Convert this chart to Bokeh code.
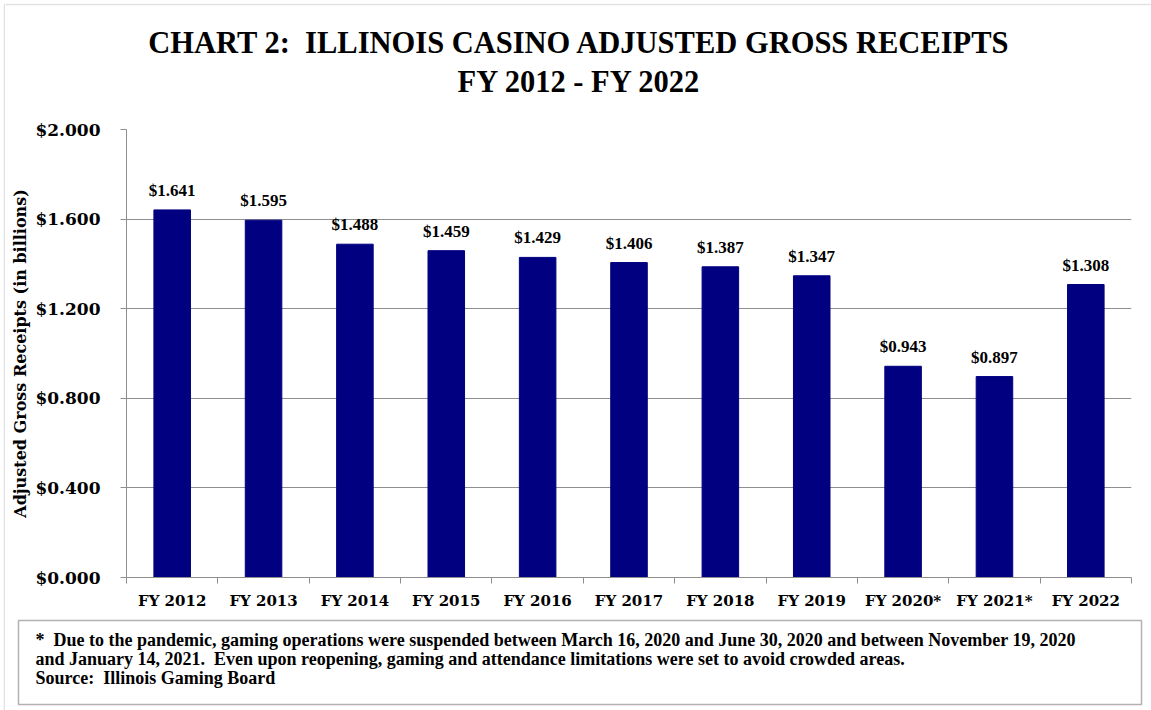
from bokeh.plotting import figure
from bokeh.layouts import column, row
from bokeh.models import (ColumnDataSource, Range1d, FixedTicker, NumeralTickFormatter,
                          LabelSet, Label, BoxAnnotation, Plot)
from bokeh.embed import file_html
from bokeh.resources import INLINE

# ---------------- data ----------------
categories = ["FY 2012", "FY 2013", "FY 2014", "FY 2015", "FY 2016", "FY 2017",
              "FY 2018", "FY 2019", "FY 2020*", "FY 2021*", "FY 2022"]
receipts = [1.641, 1.595, 1.488, 1.459, 1.429, 1.406, 1.387, 1.347, 0.943, 0.897, 1.308]
value_labels = ["$%.3f" % v for v in receipts]
y_ticks = [0.0, 0.4, 0.8, 1.2, 1.6, 2.0]
title_lines = ["CHART 2:\u00a0 ILLINOIS CASINO ADJUSTED GROSS RECEIPTS", "FY 2012 - FY 2022"]
y_label = "Adjusted Gross Receipts (in billions)"
footnote_lines = [
    "*\u00a0 Due to the pandemic, gaming operations were suspended between March 16, 2020 and June 30, 2020 and between November 19, 2020",
    "and January 14, 2021.\u00a0 Even upon reopening, gaming and attendance limitations were set to avoid crowded areas.",
    "Source:\u00a0 Illinois Gaming Board",
]

# ---------------- layout / styling ----------------
PAGE_W, PAGE_H = 1151, 710
STRIP_W = 5                      # left strip carrying the outer border
W = PAGE_W - STRIP_W
TOP_H, MAIN_H = 100, 515
FOOT_H = PAGE_H - TOP_H - MAIN_H
FRAME_L, FRAME_R, FRAME_T, FRAME_B = 126, 1131, 129, 577   # page coords of plot area
GRAY = "#8e8e8e"
BORDER = "#a0a0a0"
NAVY = "#000080"
SERIF_NUM = "DejaVu Serif"
SERIF_TXT = "Liberation Serif"
HAS_FRAME_ALIGN = "frame_align" in Plot.properties()


def no_align(f):
    if HAS_FRAME_ALIGN:
        f.frame_align = False
    return f


def blank(width, height):
    f = figure(width=width, height=height, title=None, output_backend="svg",
               toolbar_location=None, x_axis_location=None, y_axis_location=None,
               min_border=0, min_border_left=0, min_border_right=0,
               min_border_top=0, min_border_bottom=0,
               x_range=Range1d(0, width), y_range=Range1d(0, height))
    f.outline_line_color = None
    f.xgrid.visible = False
    f.ygrid.visible = False
    f.background_fill_color = "white"
    f.border_fill_color = "white"
    return no_align(f)


def box(left, right, top, bottom, color, lw):
    return BoxAnnotation(left=left, right=right, top=top, bottom=bottom,
                         left_units="screen", right_units="screen",
                         top_units="screen", bottom_units="screen",
                         fill_color=None, line_color=color, line_width=lw)


# ---- left strip with the outer border ----
strip = blank(STRIP_W, PAGE_H)
strip.add_layout(box(4, 60, PAGE_H - 4, -60, BORDER, 1.5))

# ---- title panel ----
top = blank(W, TOP_H)
top.add_layout(box(-60, W + 60, TOP_H - 4, -60, BORDER, 1.5))
for txt, base in zip(title_lines, [42, 81]):
    top.add_layout(Label(x=579 - STRIP_W, y=TOP_H - base, x_units="screen", y_units="screen",
                         text=txt, text_align="center", text_baseline="alphabetic",
                         text_font=SERIF_TXT, text_font_style="bold", text_font_size="30.5px",
                         text_color="black"))

# ---- main chart ----
n = len(categories)
pos = list(range(n))

p = figure(width=W, height=MAIN_H, title=None, x_range=Range1d(-0.5, n - 0.5), y_range=Range1d(0, 2),
           output_backend="svg", toolbar_location=None,
           min_border_left=FRAME_L - STRIP_W, min_border_right=PAGE_W - FRAME_R,
           min_border_top=FRAME_T - TOP_H, min_border_bottom=TOP_H + MAIN_H - FRAME_B)
no_align(p)
p.outline_line_color = None
p.background_fill_color = "white"
p.border_fill_color = "white"

ya = p.yaxis[0]
ya.ticker = FixedTicker(ticks=y_ticks)
ya.formatter = NumeralTickFormatter(format="$0.000")
ya.major_label_text_font = SERIF_NUM
ya.major_label_text_font_style = "bold"
ya.major_label_text_font_size = "17px"
ya.major_label_text_color = "black"
ya.major_label_standoff = 20
ya.major_tick_out = 6
ya.major_tick_in = 0
ya.minor_tick_line_color = None
ya.major_tick_line_color = GRAY
ya.axis_line_color = GRAY
ya.axis_label = y_label
ya.axis_label_text_font = SERIF_NUM
ya.axis_label_text_font_style = "bold"
ya.axis_label_text_font_size = "16px"
ya.axis_label_text_color = "black"
ya.axis_label_standoff = 2

p.ygrid.ticker = FixedTicker(ticks=y_ticks)
p.ygrid.grid_line_color = GRAY
p.ygrid.grid_line_width = 1
p.xgrid.visible = False

# x axis: labels at category centres, tick marks at category boundaries
xa = p.xaxis[0]
xa.ticker = FixedTicker(ticks=pos, minor_ticks=[i - 0.5 for i in range(n + 1)])
xa.major_label_overrides = {i: c for i, c in zip(pos, categories)}
xa.major_tick_out = 0
xa.major_tick_in = 0
xa.major_tick_line_color = None
xa.minor_tick_out = 6
xa.minor_tick_in = 0
xa.minor_tick_line_color = GRAY
xa.axis_line_color = GRAY
xa.major_label_standoff = 8
xa.major_label_text_font = SERIF_NUM
xa.major_label_text_font_style = "bold"
xa.major_label_text_font_size = "15px"
xa.major_label_text_color = "black"

src = ColumnDataSource(dict(x=pos, cat=categories, val=receipts, lbl=value_labels))
p.vbar(x="x", top="val", width=0.4, source=src, fill_color=NAVY, line_color=NAVY)
p.add_layout(LabelSet(x="x", y="val", text="lbl", source=src, text_align="center",
                      text_baseline="alphabetic", y_offset=14, text_font=SERIF_NUM,
                      text_font_style="bold", text_font_size="17px", text_color="black"))

# ---- footnote panel ----
foot = blank(W, FOOT_H)
foot.add_layout(box(18 - STRIP_W, 1141 - STRIP_W, PAGE_H - 620, PAGE_H - 704, "black", 1.5))
for txt, base in zip(footnote_lines, [639, 658, 677]):
    foot.add_layout(Label(x=35 - STRIP_W, y=PAGE_H - base, x_units="screen", y_units="screen",
                          text=txt, text_align="left", text_baseline="alphabetic",
                          text_font=SERIF_TXT, text_font_style="bold", text_font_size="18px",
                          text_color="black"))

layout = row(strip, column(top, p, foot, spacing=0), spacing=0)
open("out.html", "w").write(file_html(layout, INLINE))
